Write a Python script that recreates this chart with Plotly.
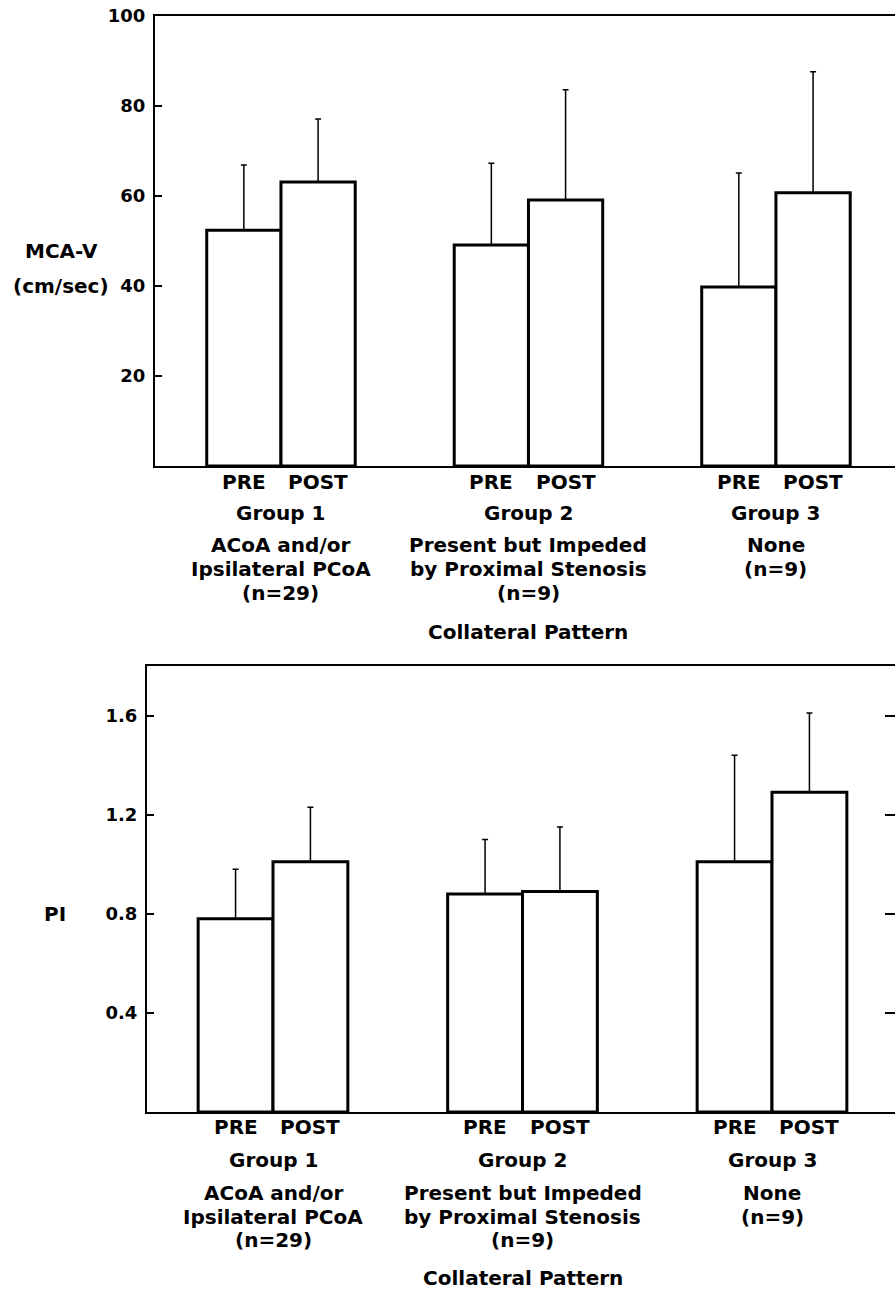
import plotly.graph_objects as go

# ---------------- data ----------------
groups = [0, 1, 2]
phase_labels = ["PRE", "POST"]
group_names = ["Group 1", "Group 2", "Group 3"]
group_desc = [
    ["ACoA and/or", "Ipsilateral PCoA", "(n=29)"],
    ["Present but Impeded", "by Proximal Stenosis", "(n=9)"],
    ["None", "(n=9)"],
]

mcav_pre = [52.4, 49.1, 39.8]
mcav_pre_sd = [14.5, 18.2, 25.3]
mcav_post = [63.1, 59.1, 60.7]
mcav_post_sd = [14.0, 24.5, 26.9]

pi_pre = [0.78, 0.88, 1.01]
pi_pre_sd = [0.20, 0.22, 0.43]
pi_post = [1.01, 0.89, 1.29]
pi_post_sd = [0.22, 0.26, 0.32]

mcav_ticks = [20, 40, 60, 80, 100]
pi_ticks = [0.4, 0.8, 1.2, 1.6]

# ---------------- layout helpers ----------------
W, H = 895, 1289
FONT = "DejaVu Sans"


def py(p):
    return 1 - p / H


fig = go.Figure()


def add_bars(vals, sds, name, xa, ya):
    fig.add_trace(go.Bar(
        x=groups, y=vals, name=name, xaxis=xa, yaxis=ya,
        marker=dict(color="white", line=dict(color="black", width=3)),
        error_y=dict(type="data", array=sds, symmetric=False,
                     arrayminus=[0] * len(sds), color="black",
                     thickness=1.5, width=3),
        showlegend=False,
    ))


add_bars(mcav_pre, mcav_pre_sd, "PRE", "x", "y")
add_bars(mcav_post, mcav_post_sd, "POST", "x", "y")
add_bars(pi_pre, pi_pre_sd, "PRE", "x2", "y2")
add_bars(pi_post, pi_post_sd, "POST", "x2", "y2")
fig.add_trace(go.Scatter(x=[], y=[], xaxis="x2", yaxis="y3", showlegend=False))

tickfont = dict(family=FONT, size=18, color="black", weight="bold")

fig.update_layout(
    width=W, height=H,
    margin=dict(l=0, r=0, t=0, b=0, pad=0, autoexpand=False),
    paper_bgcolor="white", plot_bgcolor="white",
    barmode="group", bargap=0.4, bargroupgap=0,
    xaxis=dict(domain=[155 / W, 1], range=[-0.509, 2.481], anchor="y",
               showline=True, mirror=True, linecolor="black", linewidth=2,
               showgrid=False, zeroline=False, showticklabels=False, ticks="",
               automargin=False),
    yaxis=dict(domain=[py(466), py(16)], range=[0, 100], anchor="x",
               showline=True, linecolor="black", linewidth=2,
               tickvals=mcav_ticks, ticks="inside", ticklen=7, tickwidth=2,
               tickcolor="black", tickfont=tickfont, ticklabelstandoff=4,
               showgrid=False, zeroline=False, automargin=False),
    xaxis2=dict(domain=[147 / W, 1], range=[-0.505, 2.493], anchor="y2",
                showline=True, mirror=True, linecolor="black", linewidth=2,
                showgrid=False, zeroline=False, showticklabels=False, ticks="",
                automargin=False),
    yaxis2=dict(domain=[py(1112), py(666)], range=[0, 1.8], anchor="x2",
                showline=True, linecolor="black", linewidth=2,
                tickvals=pi_ticks, ticktext=[f"{t:.1f}" for t in pi_ticks],
                ticks="inside", ticklen=7, tickwidth=2, tickcolor="black",
                tickfont=tickfont, ticklabelstandoff=4,
                showgrid=False, zeroline=False, automargin=False),
    yaxis3=dict(overlaying="y2", side="right", anchor="x2", range=[0, 1.8],
                tickvals=pi_ticks, ticks="inside", ticklen=10, tickwidth=2,
                tickcolor="black", showticklabels=False, showline=False,
                showgrid=False, zeroline=False, automargin=False),
)

anns = []


def txt(x, y, s, xref="paper", size=20):
    anns.append(dict(x=x, y=y, xref=xref, yref="paper", text=s,
                     showarrow=False, xanchor="center", yanchor="middle",
                     font=dict(family=FONT, size=size, color="black",
                               weight="bold")))


def panel_labels(xref, y_phase, y_group, y_desc, y_title, title_x):
    for g in groups:
        txt(g - 0.15, py(y_phase), phase_labels[0], xref)
        txt(g + 0.15, py(y_phase), phase_labels[1], xref)
        txt(g, py(y_group), group_names[g], xref)
        for i, line in enumerate(group_desc[g]):
            txt(g, py(y_desc[i]), line, xref)
    txt(title_x, py(y_title), "Collateral Pattern", xref)


panel_labels("x", 482, 513, [545, 569, 593], 632, 1.0)
panel_labels("x2", 1127, 1160, [1193, 1217, 1240], 1278, 1.0)

txt(61 / W, py(251), "MCA-V")
txt(61 / W, py(286), "(cm/sec)")
txt(55 / W, py(914), "PI")

fig.update_layout(annotations=anns)

fig.write_html(
    "out.html",
    config={"displayModeBar": False},
    post_script="document.body.style.margin='0';document.body.style.overflow='hidden';",
)
